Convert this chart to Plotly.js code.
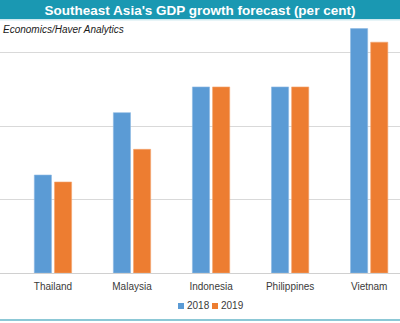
<!DOCTYPE html>
<html>
<head>
<meta charset="utf-8">
<script src="https://cdn.plot.ly/plotly-3.0.1.min.js"></script>
<style>html,body{margin:0;padding:0;background:#fff;}#chart{width:400px;height:323px;}</style>
</head>
<body>
<div id="chart"></div>
<script>
const categories = ["Thailand", "Malaysia", "Indonesia", "Philippines", "Vietnam"];
const growth2018 = [2.67, 4.37, 5.07, 5.07, 6.66];
const growth2019 = [2.48, 3.37, 5.07, 5.07, 6.29];
const seriesNames = ["2018", "2019"];
const seriesColors = ["#5b9bd5", "#ed7d31"];
const gridValues = [0, 2, 4, 6];

const traces = [
  {type: "bar", name: seriesNames[0], x: categories, y: growth2018,
   marker: {color: seriesColors[0], line: {color: "#8db8e3", width: 0.6}}, hoverinfo: "skip"},
  {type: "bar", name: seriesNames[1], x: categories, y: growth2019,
   marker: {color: seriesColors[1], line: {color: "#f3a571", width: 0.6}}, hoverinfo: "skip"}
];

// manual compact legend (square + label), positioned in pixels
const legendLeft = [178, 212];
const legendShapes = [];
const legendAnnots = [];
seriesNames.forEach((name, i) => {
  legendShapes.push({type: "rect", xref: "paper", xsizemode: "pixel", xanchor: 0,
    x0: legendLeft[i], x1: legendLeft[i] + 6, yref: "paper", ysizemode: "pixel", yanchor: 0,
    y0: -30, y1: -36, fillcolor: seriesColors[i], line: {width: 0}});
  legendAnnots.push({text: name, xref: "paper", yref: "paper", x: (legendLeft[i] + 7) / 400, xanchor: "left",
    y: -33 / 251, yanchor: "middle", showarrow: false, xshift: 0,
    font: {family: "Liberation Sans, Arial, sans-serif", size: 10, color: "#3a3a3a"}});
});

const layout = {
  width: 400, height: 323,
  margin: {l: 0, r: 0, t: 22, b: 50, pad: 0},
  paper_bgcolor: "#ffffff", plot_bgcolor: "#ffffff",
  barmode: "group", bargap: 0.49, bargroupgap: 0.15,
  showlegend: false,
  title: {text: "<b>Southeast Asia's GDP growth forecast (per cent)</b>",
          x: 0.5, xanchor: "center", xref: "paper", y: 1 - 10/323, yanchor: "middle", yref: "container",
          font: {family: "Liberation Sans, Arial, sans-serif", size: 13.5, color: "#ffffff"}},
  xaxis: {type: "category", range: [-0.67, 4.39], showgrid: false, zeroline: false, showline: false,
          ticks: "", ticklabelstandoff: 6,
          tickfont: {family: "Liberation Sans, Arial, sans-serif", size: 10, color: "#3a3a3a"},
          fixedrange: true},
  yaxis: {range: [0, 6.84], tickvals: gridValues, showticklabels: false, showgrid: true,
          gridcolor: "#d9d9d9", gridwidth: 1, zeroline: true, zerolinecolor: "#d0d0d0", zerolinewidth: 1,
          showline: false, fixedrange: true},
  shapes: [
    {type: "rect", xref: "paper", x0: 0, x1: 1, yref: "paper", ysizemode: "pixel", yanchor: 1,
     y0: 3, y1: 24, fillcolor: "#1a98b2", line: {width: 0}, layer: "below"},
    {type: "rect", xref: "paper", x0: 0, x1: 1, yref: "paper", ysizemode: "pixel", yanchor: 1,
     y0: 1.5, y1: 3, fillcolor: "#cfe9ef", line: {width: 0}, layer: "below"},
    {type: "rect", xref: "paper", x0: 0, x1: 1, yref: "paper", ysizemode: "pixel", yanchor: 0,
     y0: -46, y1: -48, fillcolor: "#8cc8d6", line: {width: 0}, layer: "below"}
  ].concat(legendShapes),
  annotations: [
    {text: "<i>Economics/Haver Analytics</i>", xref: "paper", yref: "paper",
     x: 1/400, xanchor: "left", y: 1 - 8/251, yanchor: "middle", showarrow: false,
     font: {family: "Liberation Sans, Arial, sans-serif", size: 10, color: "#1a1a1a"}}
  ].concat(legendAnnots)
};

Plotly.newPlot("chart", traces, layout, {displayModeBar: false, staticPlot: true});
</script>
</body>
</html>
